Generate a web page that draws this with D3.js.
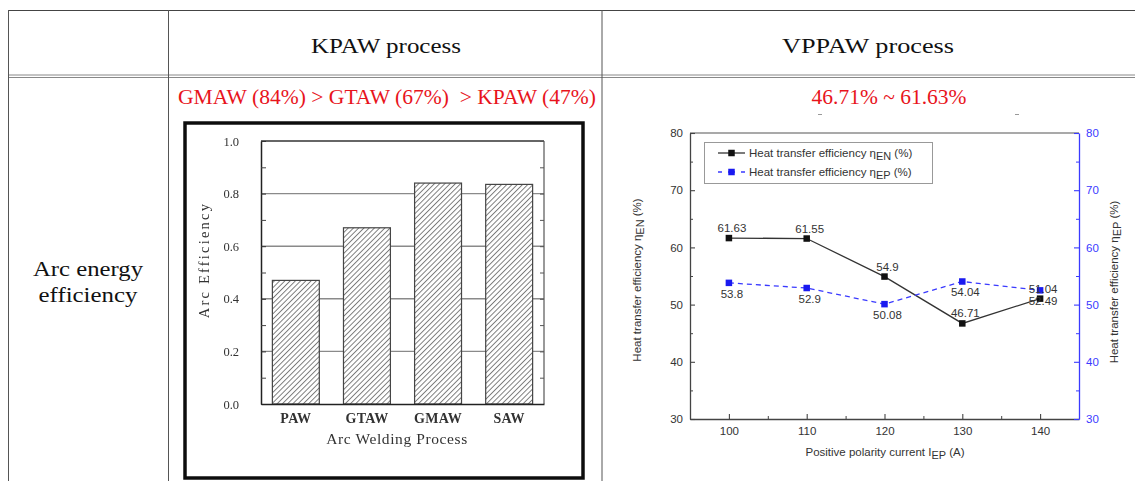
<!DOCTYPE html>
<html>
<head>
<meta charset="utf-8">
<script src="https://cdn.jsdelivr.net/npm/d3@7"></script>
<style>
  html, body { margin: 0; padding: 0; background: #fff; }
  svg { display: block; }
  text { white-space: pre; }
</style>
</head>
<body>
<svg id="chart" width="1135" height="481"></svg>
<script>
// ---- table text ----
const columnHeaders = ["KPAW process", "VPPAW process"];
const rowLabelLines = ["Arc energy", "efficiency"];
const kpawSummary = "GMAW (84%) > GTAW (67%)  > KPAW (47%)";

// ---- KPAW: arc efficiency by welding process ----
const weldProcesses = ["PAW", "GTAW", "GMAW", "SAW"];
const arcEfficiency = [0.47, 0.67, 0.84, 0.835];
const arcTicks = [0.0, 0.2, 0.4, 0.6, 0.8, 1.0];
const arcMinorTicks = [0.1, 0.3, 0.5, 0.7, 0.9];

// ---- VPPAW: heat transfer efficiency vs positive polarity current ----
const currents = [100, 110, 120, 130, 140];
const etaEN = [61.63, 61.55, 54.9, 46.71, 51.04];
const etaEP = [53.8, 52.9, 50.08, 54.04, 52.49];
const currentTicks = [100, 110, 120, 130, 140];
const currentMinorTicks = [105, 115, 125, 135];
const etaTicks = [30, 40, 50, 60, 70, 80];
const etaMinorTicks = [35, 45, 55, 65, 75];

const serif = "'Liberation Serif','Times New Roman',serif";
const sans = "'Liberation Sans',Arial,sans-serif";
const blue = "#3a3aff";

const svg = d3.select("#chart");
const defs = svg.append("defs");

// ================= table grid =================
const table = svg.append("g");
table.append("line").attr("x1", 8).attr("x2", 1135).attr("y1", 10.5).attr("y2", 10.5)
  .attr("stroke", "#444").attr("stroke-width", 1);
[75, 77.5].forEach(y => table.append("line")
  .attr("x1", 8).attr("x2", 1135).attr("y1", y).attr("y2", y)
  .attr("stroke", "#888").attr("stroke-width", 1));
[8.5, 168.5, 602].forEach(x => table.append("line")
  .attr("x1", x).attr("x2", x).attr("y1", 10).attr("y2", 481)
  .attr("stroke", "#555").attr("stroke-width", 1));

function cellText(x, y, str, size, color, width) {
  return table.append("text")
    .attr("x", x).attr("y", y)
    .attr("text-anchor", "middle")
    .attr("font-family", serif).attr("font-size", size)
    .attr("fill", color)
    .attr("textLength", width).attr("lengthAdjust", "spacingAndGlyphs")
    .text(str);
}

cellText(386, 53, columnHeaders[0], 21, "#111", 150);
cellText(868, 53, columnHeaders[1], 21, "#111", 172);
cellText(88, 276, rowLabelLines[0], 21, "#111", 110);
cellText(88, 302, rowLabelLines[1], 21, "#111", 99);
cellText(387, 104, kpawSummary, 20.5, "#e8141c", 418);
const vppawSummary = `${d3.min(etaEN)}% ~ ${d3.max(etaEN)}%`;
cellText(889, 104, vppawSummary, 20.5, "#e8141c", 155);
[818, 1015].forEach(x => table.append("line")
  .attr("x1", x).attr("x2", x + 4).attr("y1", 114.5).attr("y2", 114.5)
  .attr("stroke", "#999").attr("stroke-width", 1));

// ================= KPAW bar chart =================
const soft = defs.append("filter").attr("id", "soft");
soft.append("feGaussianBlur").attr("stdDeviation", 0.55);

const hatch = defs.append("pattern").attr("id", "hatch")
  .attr("patternUnits", "userSpaceOnUse")
  .attr("width", 3.7).attr("height", 3.7)
  .attr("patternTransform", "rotate(45)");
hatch.append("rect").attr("width", 3.7).attr("height", 3.7).attr("fill", "#fff");
hatch.append("line").attr("x1", 0.5).attr("x2", 0.5).attr("y1", 0).attr("y2", 3.7)
  .attr("stroke", "#707070").attr("stroke-width", 0.9);

const kp = svg.append("g").attr("filter", "url(#soft)");
kp.append("rect").attr("x", 185).attr("y", 123).attr("width", 398).attr("height", 355)
  .attr("fill", "#fff").attr("stroke", "#111").attr("stroke-width", 3.5);

const xB = d3.scaleBand().domain(weldProcesses).range([261, 544])
  .paddingInner(0.34).paddingOuter(0.16);
const yB = d3.scaleLinear().domain([0, 1]).range([404, 141]);

// grid lines behind the bars
kp.append("g").selectAll("line").data(arcTicks.filter(t => t > 0 && t < 1)).join("line")
  .attr("x1", 261).attr("x2", 544).attr("y1", d => yB(d)).attr("y2", d => yB(d))
  .attr("stroke", "#8a8a8a").attr("stroke-width", 1.4);

kp.append("g").selectAll("rect").data(weldProcesses).join("rect")
  .attr("x", d => xB(d)).attr("width", xB.bandwidth())
  .attr("y", (d, i) => yB(arcEfficiency[i]))
  .attr("height", (d, i) => yB(0) - yB(arcEfficiency[i]))
  .attr("fill", "url(#hatch)").attr("stroke", "#444").attr("stroke-width", 1.2);

// frame of the plot
kp.append("line").attr("x1", 261).attr("x2", 544).attr("y1", 141).attr("y2", 141)
  .attr("stroke", "#333").attr("stroke-width", 1.3);
kp.append("line").attr("x1", 544).attr("x2", 544).attr("y1", 141).attr("y2", 404)
  .attr("stroke", "#555").attr("stroke-width", 1.2);

const kpLeft = kp.append("g").attr("transform", "translate(261,0)")
  .call(d3.axisLeft(yB).tickValues(arcTicks).tickFormat(d3.format(".1f"))
    .tickSizeInner(-5).tickSizeOuter(0).tickPadding(22));
kpLeft.select(".domain").attr("stroke", "#222").attr("stroke-width", 1.5);
kpLeft.selectAll("line").attr("stroke", "#333");
kpLeft.selectAll("text").attr("font-family", serif).attr("font-size", 12.5).attr("fill", "#333");
kp.append("g").attr("transform", "translate(261,0)")
  .call(d3.axisLeft(yB).tickValues(arcMinorTicks).tickFormat("").tickSizeInner(-5).tickSizeOuter(0))
  .call(g => g.select(".domain").remove())
  .selectAll("line").attr("stroke", "#444");
kp.append("g").attr("transform", "translate(544,0)")
  .call(d3.axisRight(yB).tickValues(arcMinorTicks.concat(arcTicks)).tickFormat("").tickSizeInner(-4).tickSizeOuter(0))
  .call(g => g.select(".domain").remove())
  .selectAll("line").attr("stroke", "#555");

const kpBottom = kp.append("g").attr("transform", "translate(0,404)")
  .call(d3.axisBottom(xB).tickSize(0).tickPadding(9));
kpBottom.select(".domain").attr("stroke", "#222").attr("stroke-width", 1.5);
kpBottom.selectAll("text").attr("font-family", serif).attr("font-size", 14)
  .attr("font-weight", "bold").attr("fill", "#333").attr("letter-spacing", 0.3);

kp.append("text").attr("x", 397).attr("y", 444).attr("text-anchor", "middle")
  .attr("font-family", serif).attr("font-size", 15.5).attr("letter-spacing", 0.6)
  .attr("fill", "#333").text("Arc Welding Process");
kp.append("text").attr("transform", "translate(209,260) rotate(-90)")
  .attr("text-anchor", "middle")
  .attr("font-family", serif).attr("font-size", 14.5).attr("letter-spacing", 2.2)
  .attr("fill", "#333").text("Arc Efficiency");

// ================= VPPAW line chart =================
const vp = svg.append("g");
const xC = d3.scaleLinear().domain([95, 145]).range([690, 1079]);
const yEN = d3.scaleLinear().domain([30, 80]).range([419, 133]);
const yEP = d3.scaleLinear().domain([30, 80]).range([419, 133]);

vp.append("line").attr("x1", 690).attr("x2", 1079).attr("y1", 133).attr("y2", 133)
  .attr("stroke", "#555").attr("stroke-width", 1.2);

function styleAxis(g, color) {
  g.select(".domain").attr("stroke", color).attr("stroke-width", 1.3);
  g.selectAll("line").attr("stroke", color).attr("stroke-width", 1.1);
  g.selectAll("text").attr("font-family", sans).attr("font-size", 11.5).attr("fill", color);
}

const vBottom = vp.append("g").attr("transform", "translate(0,419)")
  .call(d3.axisBottom(xC).tickValues(currentTicks).tickSizeInner(-5).tickSizeOuter(0).tickPadding(8));
styleAxis(vBottom, "#444");
vBottom.selectAll("text").attr("fill", "#333");
vp.append("g").attr("transform", "translate(0,419)")
  .call(d3.axisBottom(xC).tickValues(currentMinorTicks).tickFormat("").tickSizeInner(-3).tickSizeOuter(0))
  .call(g => g.select(".domain").remove())
  .selectAll("line").attr("stroke", "#444");

const vLeft = vp.append("g").attr("transform", "translate(690,0)")
  .call(d3.axisLeft(yEN).tickValues(etaTicks).tickSizeInner(-5).tickSizeOuter(0).tickPadding(7));
styleAxis(vLeft, "#444");
vLeft.selectAll("text").attr("fill", "#333");
vp.append("g").attr("transform", "translate(690,0)")
  .call(d3.axisLeft(yEN).tickValues(etaMinorTicks).tickFormat("").tickSizeInner(-3).tickSizeOuter(0))
  .call(g => g.select(".domain").remove())
  .selectAll("line").attr("stroke", "#444");

const vRight = vp.append("g").attr("transform", "translate(1079,0)")
  .call(d3.axisRight(yEP).tickValues(etaTicks).tickSizeInner(-5).tickSizeOuter(0).tickPadding(7));
styleAxis(vRight, blue);
vp.append("g").attr("transform", "translate(1079,0)")
  .call(d3.axisRight(yEP).tickValues(etaMinorTicks).tickFormat("").tickSizeInner(-3).tickSizeOuter(0))
  .call(g => g.select(".domain").remove())
  .selectAll("line").attr("stroke", blue);

// axis titles with subscripts
function subTitle(sel, main, sub, tail, size) {
  sel.attr("font-family", sans).attr("font-size", size).attr("fill", "#333");
  sel.append("tspan").text(main);
  sel.append("tspan").attr("dy", size * 0.3).attr("font-size", size * 0.95).text(sub);
  sel.append("tspan").attr("dy", -size * 0.3).text(tail);
  return sel;
}
subTitle(vp.append("text").attr("x", 885).attr("y", 456).attr("text-anchor", "middle"),
  "Positive polarity current I", "EP", " (A)", 11.5);
subTitle(vp.append("text").attr("transform", "translate(641,280) rotate(-90)").attr("text-anchor", "middle"),
  "Heat transfer efficiency \u03b7", "EN", " (%)", 11.5);
subTitle(vp.append("text").attr("transform", "translate(1118,282) rotate(-90)").attr("text-anchor", "middle"),
  "Heat transfer efficiency \u03b7", "EP", " (%)", 11.5);

// series
const series = [
  { name: "EN", values: etaEN, y: yEN, color: "#333", marker: "#111", dash: null, labelDy: -6 },
  { name: "EP", values: etaEP, y: yEP, color: blue, marker: "#1a1af0", dash: "5,4", labelDy: 15 }
];
const msize = 6.5;
series.forEach(s => {
  const line = d3.line().x((d, i) => xC(currents[i])).y(d => s.y(d));
  vp.append("path").datum(s.values).attr("d", line)
    .attr("fill", "none").attr("stroke", s.color).attr("stroke-width", 1.3)
    .attr("stroke-dasharray", s.dash);
});
series.forEach(s => {
  vp.append("g").selectAll("rect").data(s.values).join("rect")
    .attr("x", (d, i) => xC(currents[i]) - msize / 2)
    .attr("y", d => s.y(d) - msize / 2)
    .attr("width", msize).attr("height", msize)
    .attr("fill", s.marker);
});
series.forEach(s => {
  vp.append("g").selectAll("text").data(s.values).join("text")
    .attr("x", (d, i) => xC(currents[i]) + 3)
    .attr("y", d => s.y(d) + s.labelDy)
    .attr("text-anchor", "middle")
    .attr("font-family", sans).attr("font-size", 11.5).attr("fill", "#333")
    .text(d => String(d));
});

// legend
const lg = vp.append("g");
lg.append("rect").attr("x", 704.5).attr("y", 142.5).attr("width", 228).attr("height", 41)
  .attr("fill", "#fff").attr("stroke", "#999").attr("stroke-width", 1);
series.forEach((s, i) => {
  const y = 153 + i * 19;
  lg.append("line").attr("x1", 718).attr("x2", 745).attr("y1", y).attr("y2", y)
    .attr("stroke", s.color).attr("stroke-width", 1.3)
    .attr("stroke-dasharray", s.dash ? "4,6,7,6,4" : null);
  lg.append("rect").attr("x", 731.5 - msize / 2).attr("y", y - msize / 2)
    .attr("width", msize).attr("height", msize).attr("fill", s.marker);
  subTitle(lg.append("text").attr("x", 749).attr("y", y + 4),
    "Heat transfer efficiency \u03b7", s.name, " (%)", 11.5);
});
</script>
</body>
</html>
